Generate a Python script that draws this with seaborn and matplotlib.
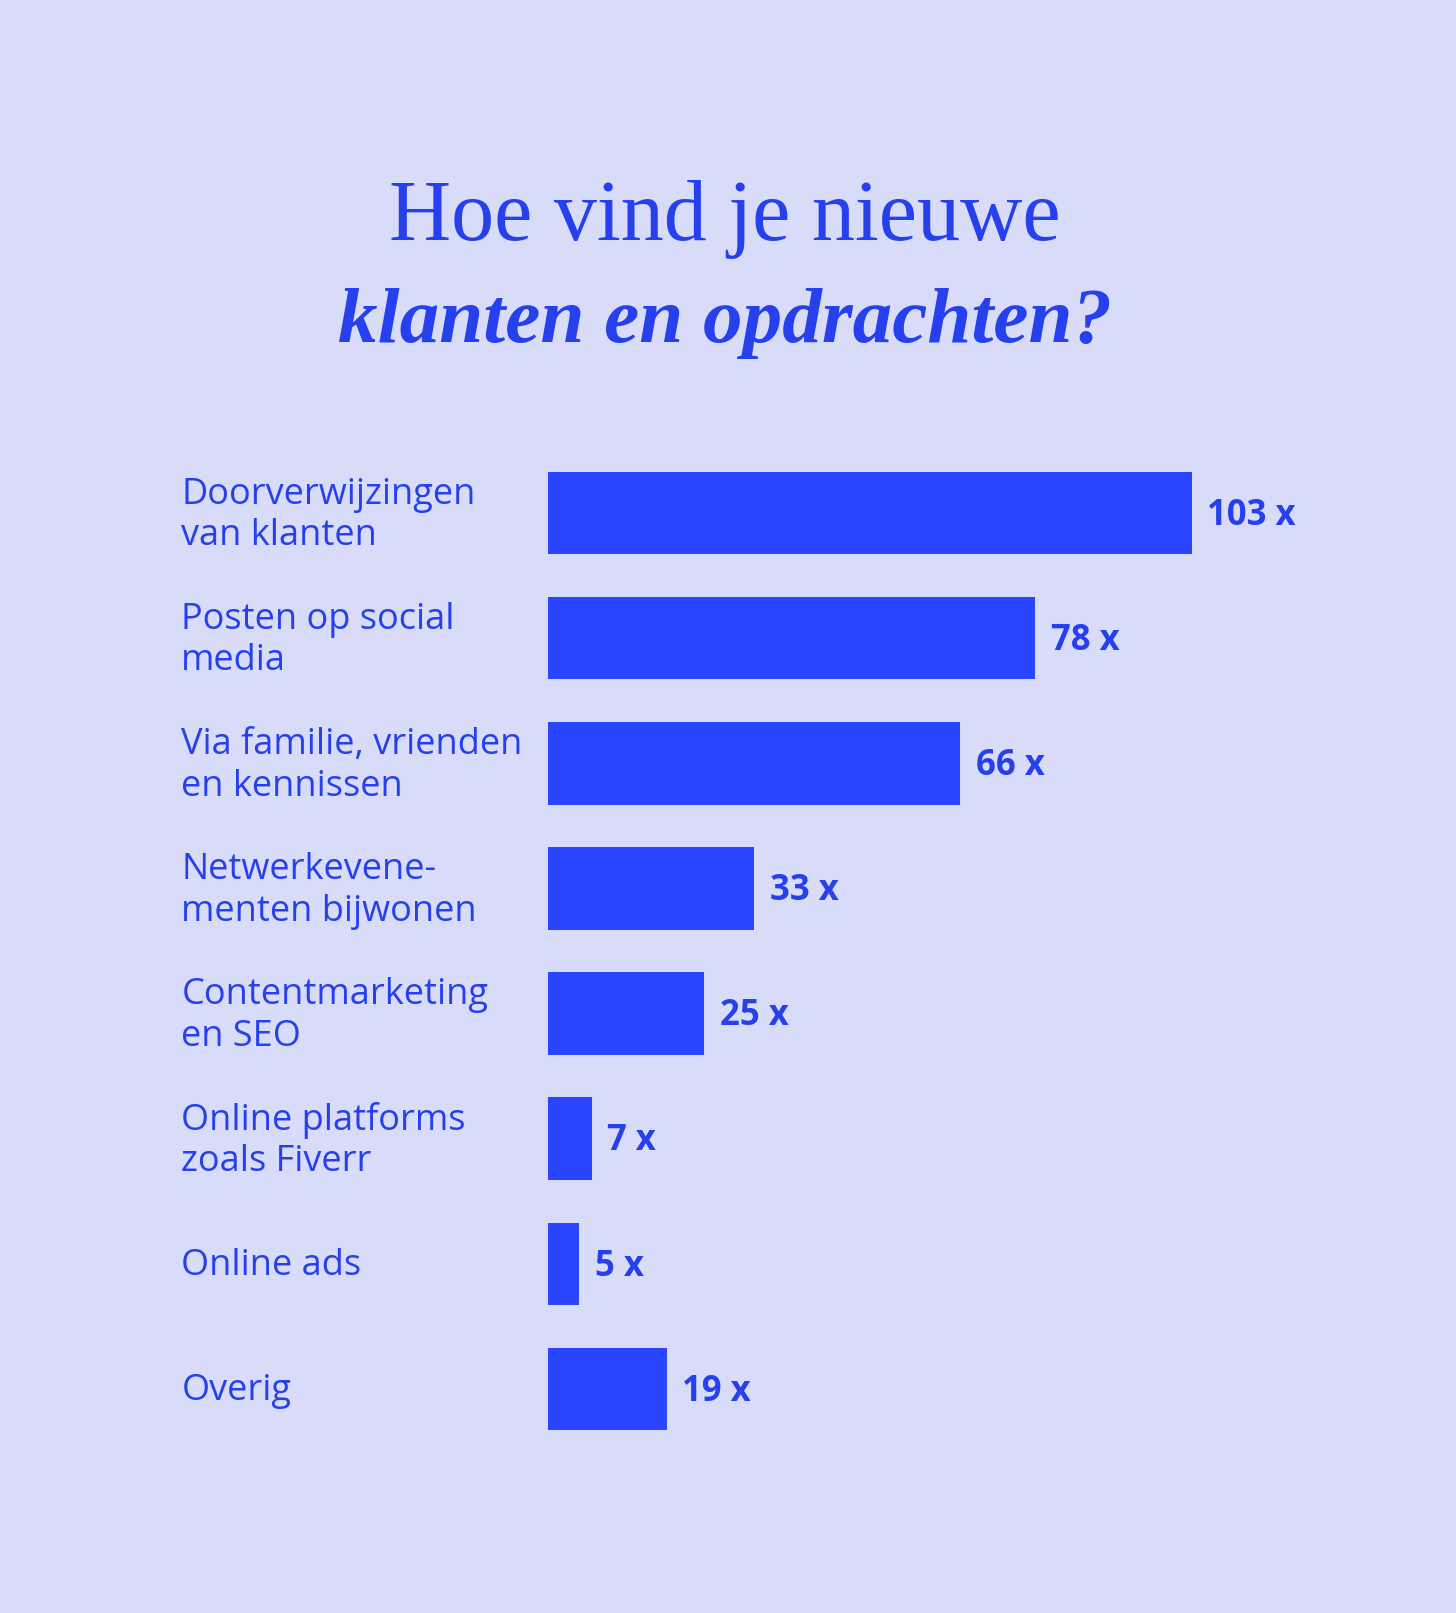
import matplotlib
matplotlib.use('Agg')
import matplotlib.pyplot as plt
import matplotlib.transforms as mtransforms
import seaborn as sns

#-- Data:

categories = [
    'Doorverwijzingen\nvan klanten',
    'Posten op social\nmedia',
    'Via familie, vrienden\nen kennissen',
    'Netwerkevene-\nmenten bijwonen',
    'Contentmarketing\nen SEO',
    'Online platforms\nzoals Fiverr',
    'Online ads',
    'Overig',
]
counts = [103, 78, 66, 33, 25, 7, 5, 19]
value_labels = [f'{v} x' for v in counts]

#-- Colors:

bg = '#D8DCF8'
bar_color = '#2A45FF'
text_color = '#2640EE'

sns.set_style('white')
plt.rcParams['font.family'] = ['Open Sans', 'DejaVu Sans']

fig = plt.figure(figsize=(14.56, 16.13), dpi=100, facecolor=bg)
ax = fig.add_axes([0.3764, 0.1001, 0.515, 0.6206])
ax.set_facecolor(bg)

sns.barplot(x=counts, y=categories, orient='h', color=bar_color, width=0.66,
            saturation=1, linewidth=0, ax=ax)
ax.set_xlim(0, 120)
ax.set_ylim(7.5, -0.5)

for i, txt in enumerate(value_labels):
    ax.annotate(txt, (counts[i], i), xytext=(11, -2), textcoords='offset points',
                ha='left', va='center', fontsize=25, fontweight='bold', color=text_color)

trans = mtransforms.blended_transform_factory(fig.transFigure, ax.transData)
for i, lab in enumerate(categories):
    ax.text(0.1245, i + 0.02, lab, transform=trans, ha='left', va='center', fontsize=26,
            color=text_color, linespacing=1.2)

ax.set_xticks([])
ax.set_yticks([])
ax.set_xlabel('')
ax.set_ylabel('')
sns.despine(left=True, bottom=True)

#-- Title:

fig.text(0.498, 0.8512, 'Hoe vind je nieuwe', ha='center', va='baseline',
         fontsize=62, color=text_color, family=['Liberation Serif', 'DejaVu Serif'])
fig.text(0.498, 0.788, 'klanten en opdrachten?', ha='center', va='baseline',
         fontsize=57, color=text_color, fontstyle='italic', fontweight='bold',
         family=['Liberation Serif', 'DejaVu Serif'])

fig.savefig('out.png', dpi=100, facecolor=bg)
